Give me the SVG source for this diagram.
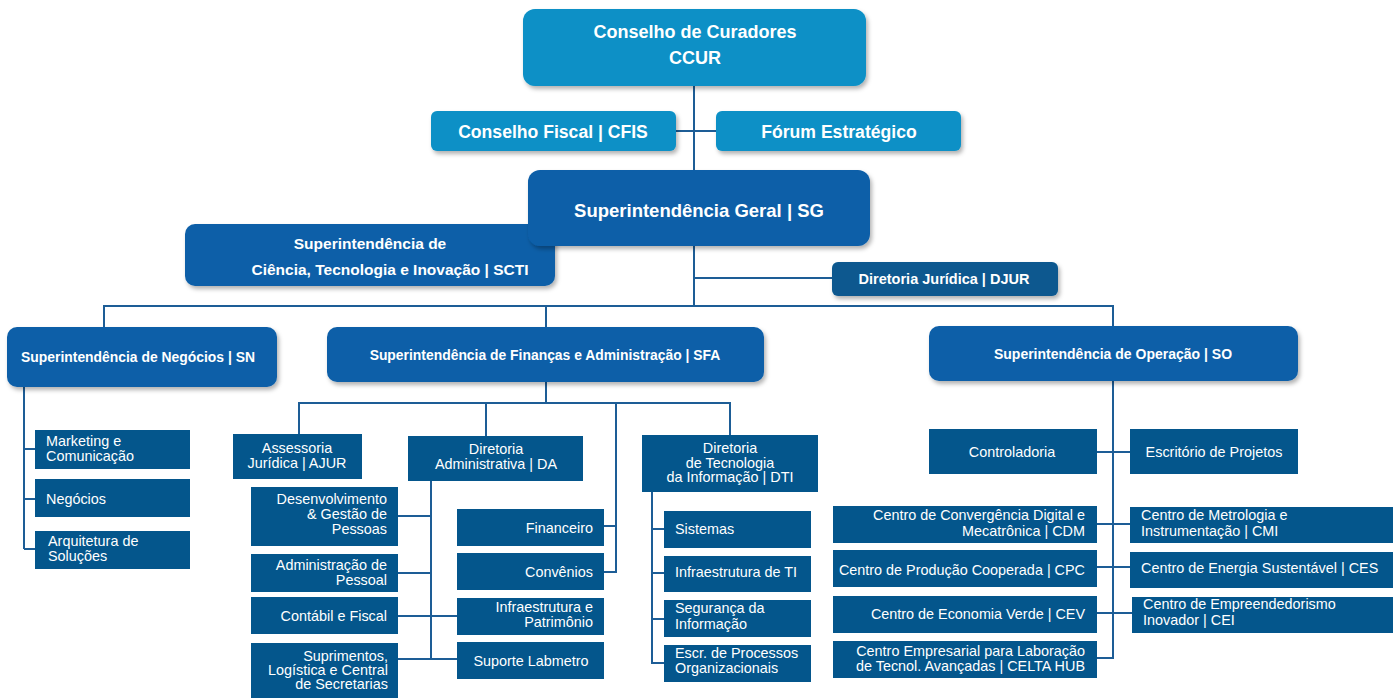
<svg xmlns="http://www.w3.org/2000/svg" width="1399" height="698" viewBox="0 0 1399 698">
<defs>
<filter id="sh" x="-10%" y="-20%" width="125%" height="160%"><feDropShadow dx="2" dy="3" stdDeviation="2" flood-color="#000" flood-opacity="0.3"/></filter>
<style>
text{font-family:"Liberation Sans",Arial,sans-serif;fill:#fff}
.b{font-weight:bold}
.r{font-size:14.4px}
.c{text-anchor:middle}
.e{text-anchor:end}
.lt{fill:#0890c6;filter:url(#sh)}
.dk{fill:#0b5ea8;filter:url(#sh)}
.dj{fill:#08588f;filter:url(#sh)}
.lf{fill:#04568c}
#connectors path{fill:none;stroke:#1d5d96;stroke-width:2}
</style>
</defs>
<rect width="1399" height="698" fill="#fff"/>
<g id="connectors">
<path d="M694 86V170M676 131H716M694 246V306M694 278H832"/>
<path d="M104 327V306H1113V326M546 306V327"/>
<path d="M24 387V549M24 449H35M24 499H35M24 549H35"/>
<path d="M546 382V403M299 434V403H730V435M486 403V436M616 403V572H604M604 526H616"/>
<path d="M431 481V659M398 516H431M398 573H431M398 616H457M398 659H457"/>
<path d="M652 492V663H664M652 529H664M652 573H664M652 619H664"/>
<path d="M1113 381V658H1097M1097 452H1130M1097 524H1130M1097 567H1130M1097 613H1132"/>
</g>
<g id="ccur"><rect class="lt" x="523" y="9" width="343" height="77" rx="12"/>
<text class="b c" font-size="18" x="695" y="37.5">Conselho de Curadores</text>
<text class="b c" font-size="18" x="695" y="63.5">CCUR</text></g>
<g id="cfis"><rect class="lt" x="431" y="111" width="245" height="40" rx="6"/>
<text class="b c" font-size="17.6" x="553" y="137.5">Conselho Fiscal | CFIS</text></g>
<g id="forum"><rect class="lt" x="716" y="111" width="245" height="40" rx="6"/>
<text class="b c" font-size="17.6" x="839" y="137.5">Fórum Estratégico</text></g>
<g id="scti"><rect class="dk" x="185" y="224" width="370" height="62" rx="10"/>
<text class="b c" font-size="15.5" x="370" y="248.5">Superintendência de</text>
<text class="b c" font-size="15.5" x="390" y="274.5">Ciência, Tecnologia e Inovação | SCTI</text></g>
<g id="sg"><rect class="dk" x="528" y="170" width="342" height="76" rx="12"/>
<text class="b c" font-size="18.5" x="699" y="216.5">Superintendência Geral | SG</text></g>
<g id="djur"><rect class="dj" x="832" y="262" width="226" height="34" rx="6"/>
<text class="b c" font-size="14.5" x="944" y="284">Diretoria Jurídica | DJUR</text></g>
<g id="sn"><rect class="dk" x="7" y="327" width="270" height="60" rx="10"/>
<text class="b c" font-size="13.9" x="138" y="362">Superintendência de Negócios | SN</text></g>
<g id="sfa"><rect class="dk" x="327" y="327" width="437" height="55" rx="10"/>
<text class="b c" font-size="13.9" x="545" y="360">Superintendência de Finanças e Administração | SFA</text></g>
<g id="so"><rect class="dk" x="929" y="326" width="369" height="55" rx="10"/>
<text class="b c" font-size="14" x="1113" y="359">Superintendência de Operação | SO</text></g>
<g id="mkt"><rect class="lf" x="35" y="430" width="155" height="39"/>
<text class="r" x="46" y="446">Marketing e</text><text class="r" x="46" y="461">Comunicação</text></g>
<g id="neg"><rect class="lf" x="35" y="479" width="155" height="38"/>
<text class="r" x="46" y="504">Negócios</text></g>
<g id="arq"><rect class="lf" x="35" y="531" width="155" height="38"/>
<text class="r" x="48" y="546">Arquitetura de</text><text class="r" x="48" y="561">Soluções</text></g>
<g id="ajur"><rect class="lf" x="233" y="434" width="129" height="45"/>
<text class="r c" x="297" y="453">Assessoria</text><text class="r c" x="297" y="468">Jurídica | AJUR</text></g>
<g id="da"><rect class="lf" x="408" y="436" width="175" height="45"/>
<text class="r c" x="496" y="454">Diretoria</text><text class="r c" x="496" y="469">Administrativa | DA</text></g>
<g id="dgp"><rect class="lf" x="251" y="487" width="147" height="59"/>
<text class="r e" x="387" y="504">Desenvolvimento</text><text class="r e" x="387" y="519">&amp; Gestão de</text><text class="r e" x="387" y="534">Pessoas</text></g>
<g id="adp"><rect class="lf" x="251" y="554" width="147" height="38"/>
<text class="r e" x="387" y="570">Administração de</text><text class="r e" x="387" y="585">Pessoal</text></g>
<g id="cf"><rect class="lf" x="251" y="597" width="147" height="37"/>
<text class="r e" x="387" y="621">Contábil e Fiscal</text></g>
<g id="sup"><rect class="lf" x="251" y="643" width="147" height="55"/>
<text class="r e" x="388" y="661">Suprimentos,</text><text class="r e" x="388" y="675">Logística e Central</text><text class="r e" x="388" y="689">de Secretarias</text></g>
<g id="fin"><rect class="lf" x="457" y="509" width="147" height="37"/>
<text class="r e" x="593" y="533">Financeiro</text></g>
<g id="conv"><rect class="lf" x="457" y="553" width="147" height="37"/>
<text class="r e" x="593" y="577">Convênios</text></g>
<g id="infp"><rect class="lf" x="457" y="598" width="147" height="37"/>
<text class="r e" x="593" y="612">Infraestrutura e</text><text class="r e" x="593" y="627">Patrimônio</text></g>
<g id="lab"><rect class="lf" x="457" y="642" width="147" height="37"/>
<text class="r c" x="531" y="666">Suporte Labmetro</text></g>
<g id="dti"><rect class="lf" x="642" y="435" width="176" height="57"/>
<text class="r c" x="730" y="453">Diretoria</text><text class="r c" x="730" y="468">de Tecnologia</text><text class="r c" x="730" y="482">da Informação | DTI</text></g>
<g id="sis"><rect class="lf" x="664" y="511" width="147" height="37"/>
<text class="r" x="675" y="534">Sistemas</text></g>
<g id="infti"><rect class="lf" x="664" y="556" width="147" height="36"/>
<text class="r" x="675" y="577">Infraestrutura de TI</text></g>
<g id="seg"><rect class="lf" x="664" y="600" width="147" height="37"/>
<text class="r" x="675" y="613">Segurança da</text><text class="r" x="675" y="629">Informação</text></g>
<g id="escr"><rect class="lf" x="664" y="645" width="147" height="37"/>
<text class="r" x="675" y="658">Escr. de Processos</text><text class="r" x="675" y="673">Organizacionais</text></g>
<g id="ctrl"><rect class="lf" x="929" y="429" width="168" height="45"/>
<text class="r c" x="1012" y="457">Controladoria</text></g>
<g id="ep"><rect class="lf" x="1130" y="429" width="168" height="45"/>
<text class="r c" x="1214" y="457">Escritório de Projetos</text></g>
<g id="cdm"><rect class="lf" x="833" y="506" width="264" height="37"/>
<text class="r e" x="1085" y="520">Centro de Convergência Digital e</text><text class="r e" x="1085" y="536">Mecatrônica | CDM</text></g>
<g id="cpc"><rect class="lf" x="833" y="550" width="264" height="37"/>
<text class="r e" x="1085" y="575">Centro de Produção Cooperada | CPC</text></g>
<g id="cev"><rect class="lf" x="833" y="596" width="264" height="37"/>
<text class="r e" x="1085" y="619">Centro de Economia Verde | CEV</text></g>
<g id="celta"><rect class="lf" x="833" y="641" width="264" height="37"/>
<text class="r e" x="1085" y="656">Centro Empresarial para Laboração</text><text class="r e" x="1085" y="671">de Tecnol. Avançadas | CELTA HUB</text></g>
<g id="cmi"><rect class="lf" x="1130" y="507" width="263" height="36"/>
<text class="r" x="1141" y="520">Centro de Metrologia e</text><text class="r" x="1141" y="536">Instrumentação | CMI</text></g>
<g id="ces"><rect class="lf" x="1130" y="552" width="263" height="36"/>
<text class="r" x="1141" y="573">Centro de Energia Sustentável | CES</text></g>
<g id="cei"><rect class="lf" x="1132" y="597" width="261" height="36"/>
<text class="r" x="1143" y="609">Centro de Empreendedorismo</text><text class="r" x="1143" y="625">Inovador | CEI</text></g>
</svg>
